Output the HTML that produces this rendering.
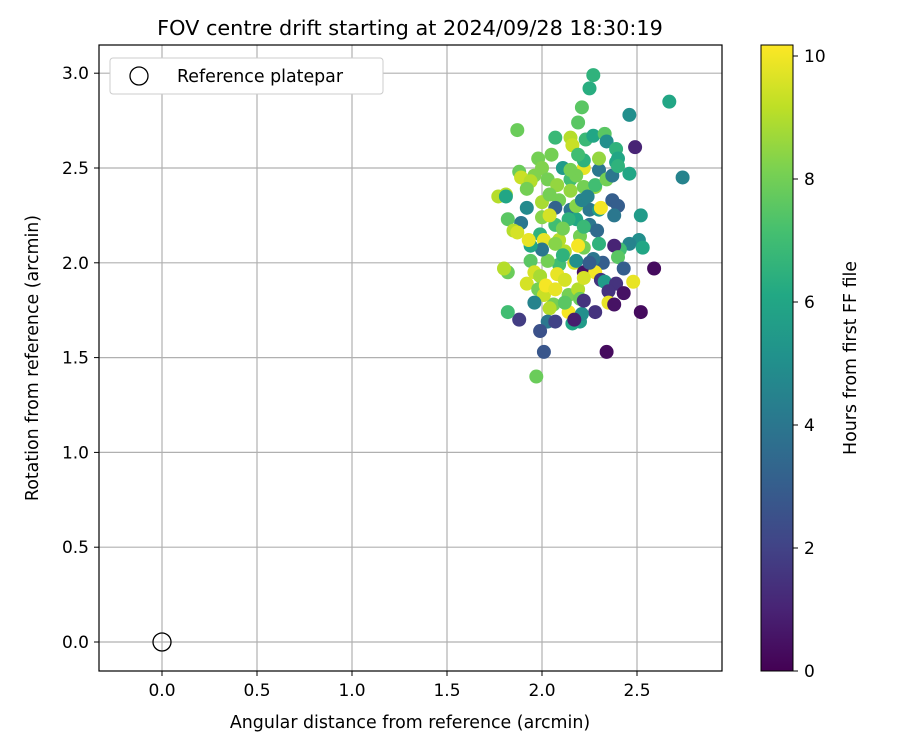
<!DOCTYPE html>
<html><head><meta charset="utf-8"><style>body{margin:0;background:#fff}svg{font-family:"DejaVu Sans","Liberation Sans",sans-serif}</style></head>
<body>
<svg id="chart" width="900" height="750" viewBox="0 0 900 750" xmlns="http://www.w3.org/2000/svg">
<defs>
<linearGradient id="vir" x1="0" y1="1" x2="0" y2="0">
<stop offset="0" stop-color="#440154"/><stop offset="0.1" stop-color="#482475"/><stop offset="0.2" stop-color="#414487"/><stop offset="0.3" stop-color="#355f8d"/><stop offset="0.4" stop-color="#2a788e"/><stop offset="0.5" stop-color="#21918c"/><stop offset="0.6" stop-color="#22a884"/><stop offset="0.7" stop-color="#44bf70"/><stop offset="0.8" stop-color="#7ad151"/><stop offset="0.9" stop-color="#bddf26"/><stop offset="1" stop-color="#fde725"/>
</linearGradient>
<clipPath id="clip"><rect x="99" y="45" width="623" height="626"/></clipPath>
</defs>
<text x="410" y="35" font-size="20.8" text-anchor="middle">FOV centre drift starting at 2024/09/28 18:30:19</text>
<g id="grid"></g>
<g id="pts" clip-path="url(#clip)"></g>
<rect x="99" y="45" width="623" height="626" fill="none" stroke="#000" stroke-width="1.2"/>
<g id="ticks"></g>
<text x="410" y="728" font-size="17.4" text-anchor="middle">Angular distance from reference (arcmin)</text>
<text transform="translate(38,358) rotate(-90)" font-size="17.4" text-anchor="middle">Rotation from reference (arcmin)</text>
<g>
<rect x="110" y="58" width="273" height="36" rx="3" fill="#fff" stroke="#ccc"/>
<circle cx="139" cy="76" r="9" fill="none" stroke="#000" stroke-width="1.3"/>
<text x="177" y="82" font-size="17.4">Reference platepar</text>
</g>
<rect x="761" y="45" width="32" height="626" fill="url(#vir)" stroke="#000" stroke-width="1"/>
<g id="cbticks"></g>
<text transform="translate(856,358) rotate(-90)" font-size="17.4" text-anchor="middle">Hours from first FF file</text>
</svg>
<script>
const xTicks=[0,0.5,1.0,1.5,2.0,2.5];
const yTicks=[0,0.5,1.0,1.5,2.0,2.5,3.0];
const cTicks=[0,2,4,6,8,10];
const xs=[2.27,2.25,2.67,1.87,2.21,2.19,2.46,2.49,2.74,2.07,2.15,2.16,2.23,2.27,2.33,2.34,2.30,2.39,2.40,2.46,2.39,2.30,2.22,1.98,2.05,2.00,1.88,1.96,1.89,1.94,1.81,1.77,1.81,1.92,2.03,2.08,2.15,2.18,2.22,2.28,2.15,2.09,2.00,1.92,1.89,2.00,1.99,1.82,1.85,1.87,2.01,2.07,2.09,2.12,2.09,2.17,2.22,2.15,2.18,2.25,2.30,2.31,2.37,2.40,2.38,2.52,2.51,2.53,2.46,2.41,2.38,2.40,2.43,2.59,2.32,2.27,2.22,2.28,2.31,2.33,2.39,2.43,2.48,2.35,2.35,2.38,2.28,2.52,2.34,2.20,2.16,2.14,2.06,2.04,2.03,1.99,2.01,1.97,1.88,1.82,1.82,1.80,1.92,1.94,1.96,1.99,1.98,2.01,1.96,2.02,2.08,2.12,2.14,2.19,2.20,2.12,2.07,2.21,2.17,2.07,2.03,2.00,2.20,2.19,2.25,2.29,2.22,2.14,2.11,2.18,2.21,2.24,2.28,2.34,2.37,2.40,2.04,2.07,2.22,2.19,2.11,2.15,2.04,1.94,1.93,2.11,2.30,2.18,2.25,2.22,2.07,2.22];
const ys=[2.99,2.92,2.85,2.70,2.82,2.74,2.78,2.61,2.45,2.66,2.66,2.62,2.65,2.67,2.68,2.64,2.49,2.60,2.55,2.47,2.53,2.55,2.50,2.55,2.57,2.50,2.48,2.46,2.45,2.43,2.36,2.35,2.35,2.39,2.44,2.41,2.44,2.46,2.40,2.40,2.38,2.33,2.32,2.29,2.21,2.24,2.15,2.23,2.17,2.16,2.12,2.20,2.12,2.06,1.99,2.00,2.08,2.28,2.23,2.28,2.28,2.29,2.33,2.30,2.25,2.25,2.12,2.08,2.10,2.07,2.09,2.03,1.97,1.97,2.00,2.02,1.95,1.95,1.91,1.90,1.89,1.84,1.90,1.85,1.79,1.78,1.74,1.74,1.53,1.69,1.68,1.74,1.78,1.76,1.69,1.64,1.53,1.40,1.70,1.74,1.95,1.97,1.89,2.01,1.95,1.93,1.86,1.83,1.79,1.88,1.94,1.91,1.83,1.86,1.81,1.79,1.69,1.73,1.70,2.10,2.01,2.07,2.14,2.09,2.20,2.17,2.19,2.23,2.18,2.30,2.33,2.35,2.41,2.44,2.46,2.51,2.36,2.29,2.54,2.57,2.50,2.49,2.25,2.09,2.12,2.04,2.10,2.01,2.00,1.92,1.86,1.80];
const hrs=[6.5,6.3,6.0,7.8,7.5,7.5,5,1,4.5,6.8,9,9.3,6.8,6,7.5,5,4,6.5,6,6,6,8.5,9.8,8,8,8.2,7.8,8.2,9.3,9,9,9,6,8,8,8.5,7,8,8,8.5,8.5,8,8.8,4.8,4,8.3,6.5,7.5,9,9.5,9.8,7,9,9,7,9.5,8,4,6,4,5.5,10,3,3,4,5.5,5,6,4.5,7,1,7.5,3,0.3,3,4,0.5,10,1.5,5.5,1.5,0.5,9.8,1.5,9.8,0.5,1.5,0.3,0.3,5.5,6,10,8,9,4,2.5,2.7,7.8,1.8,7,7.8,9,9.5,7.5,9.5,8.8,8,9.3,4.5,10,9.8,9.5,8,9,7.8,7.5,2,5,0.8,8.3,8,4,8,10,4,3.5,6.8,6.5,8,8.3,4.5,4.5,7,8,4,6.5,8,3.2,6.5,7,5.5,8,9.5,6,9.8,6.5,6.5,5,3,9.5,9.8,1.5];
const X=v=>162+v*190, Y=v=>642-v*189.6, C=h=>671-h*61.5;
const vir=["#440154","#482475","#414487","#355f8d","#2a788e","#21918c","#22a884","#44bf70","#7ad151","#bddf26","#fde725"];
function col(h){let t=Math.max(0,Math.min(1,h/10.13))*10,i=Math.min(9,Math.floor(t)),f=t-i;
const a=vir[i],b=vir[i+1],p=s=>[1,3,5].map(k=>parseInt(s.substr(k,2),16));const A=p(a),B=p(b);
return"rgb("+A.map((v,k)=>Math.round(v+(B[k]-v)*f)).join(",")+")";}
const NS="http://www.w3.org/2000/svg";
function mk(t,at,par,txt){const e=document.createElementNS(NS,t);for(const k in at)e.setAttribute(k,at[k]);if(txt!==undefined)e.textContent=txt;document.getElementById(par).appendChild(e);return e;}
xTicks.forEach(v=>{let l=mk("line",{x1:X(v),x2:X(v),y1:45,y2:671,stroke:"#b0b0b0","stroke-width":1.2},"grid");


let t=mk("line",{x1:X(v),x2:X(v),y1:671,y2:676,stroke:"#000"},"ticks");


let s=mk("text",{x:X(v),y:696,"font-size":17,"text-anchor":"middle"},"ticks",v.toFixed(1));

});
yTicks.forEach(v=>{let l=mk("line",{x1:99,x2:722,y1:Y(v),y2:Y(v),stroke:"#b0b0b0","stroke-width":1.2},"grid");


let t=mk("line",{x1:94,x2:99,y1:Y(v),y2:Y(v),stroke:"#000"},"ticks");


let s=mk("text",{x:89,y:Y(v)+6,"font-size":17,"text-anchor":"end"},"ticks",v.toFixed(1));

});
cTicks.forEach(v=>{let t=mk("line",{x1:793,x2:798,y1:C(v),y2:C(v),stroke:"#000"},"cbticks");


let s=mk("text",{x:804,y:C(v)+6,"font-size":17},"cbticks",String(v));

});
xs.forEach((v,i)=>{let c=mk("circle",{cx:X(v),cy:Y(ys[i]),r:7,fill:col(hrs[i])},"pts");

});
let r=mk("circle",{cx:X(0),cy:Y(0),r:9,fill:"none",stroke:"#000","stroke-width":1.3},"pts");


</script>
</body></html>
